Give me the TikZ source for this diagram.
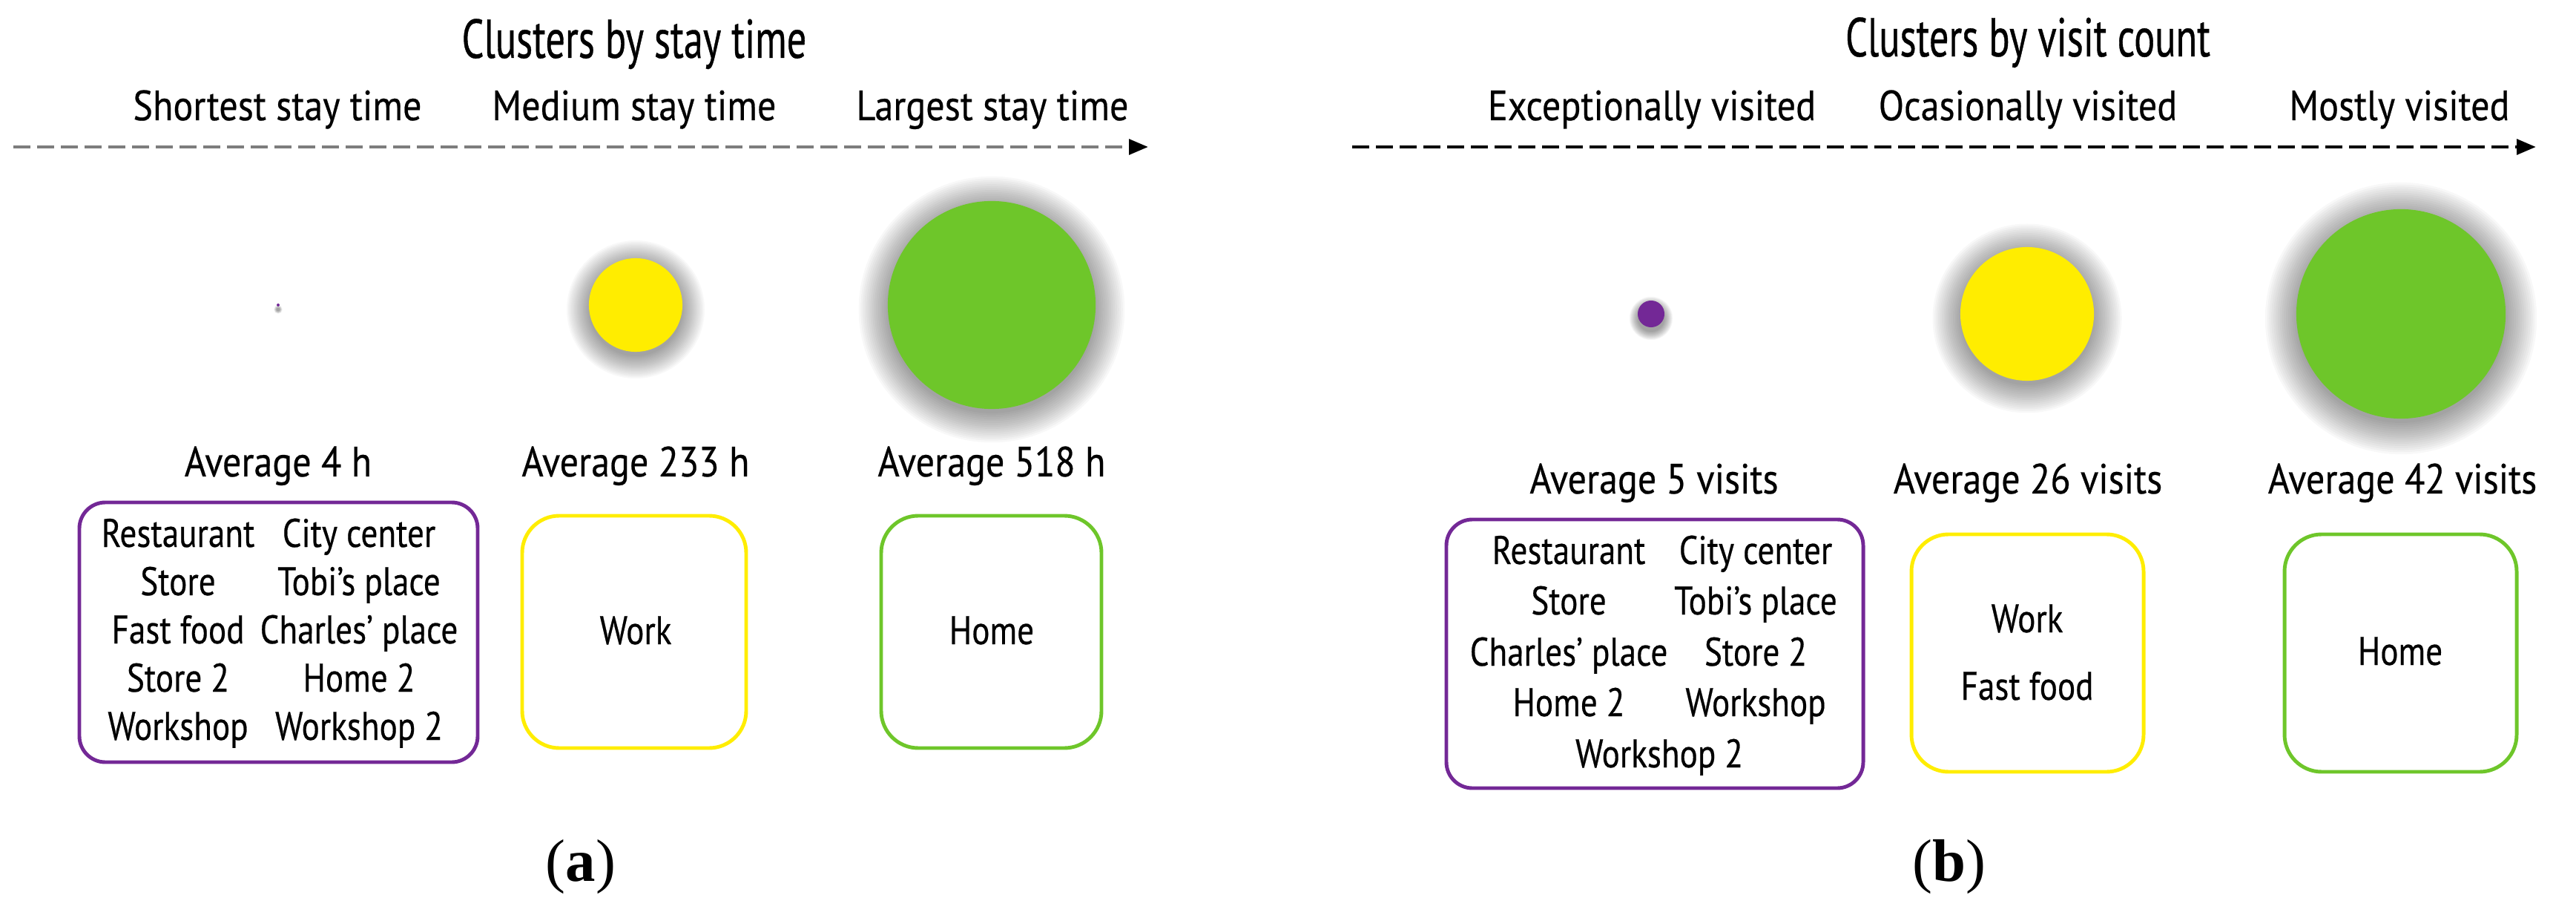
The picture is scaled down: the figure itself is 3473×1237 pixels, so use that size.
\documentclass[tikz,border=0pt]{standalone}
\usepackage{fontspec}
\setmainfont{PT Sans}[FakeStretch=0.88, FakeBold=0.4]
\newfontfamily\titlefont{PT Sans}[FakeStretch=0.71, FakeBold=0.5]
\newfontfamily\itemfont{PT Sans}[FakeStretch=0.84, FakeBold=0.4]
\newfontfamily\capfont{Liberation Serif}
\usetikzlibrary{arrows.meta,calc}
\definecolor{cpurple}{RGB}{115,40,150}
\definecolor{cyellow}{RGB}{255,237,0}
\definecolor{cgreen}{RGB}{110,198,42}
\definecolor{cdash}{RGB}{125,125,125}
\newcommand{\glowdisk}[6]{% name, x, y, radius(px), colour, glow extent(px)
  \foreach \k in {1,...,16} {
    \fill[black, opacity=0.026] (#2,#3+6) circle[radius=#4+#6-#6*\k/16];
  }
  \node[circle, fill=#5, inner sep=0, minimum size=#4*0.02cm] (#1) at (#2,#3) {};
}
\tikzset{
  ttl/.style={anchor=base, inner sep=0, font=\titlefont\fontsize{21}{24}\selectfont},
  sub/.style={anchor=base, inner sep=0, font=\fontsize{16.2}{19}\selectfont},
  avg/.style={anchor=base, inner sep=0, font=\fontsize{16.2}{19}\selectfont},
  itm/.style={anchor=base, inner sep=0, font=\itemfont\fontsize{15.3}{18}\selectfont},
  captxt/.style={anchor=base, inner sep=0, font=\capfont\fontsize{23}{26}\selectfont},
  axisline/.style={line width=1.4pt, dash pattern=on 6.5pt off 2.6pt,
    -{Triangle[length=7.4pt,width=5.8pt,color=black]}},
  pbox/.style={draw=cpurple, line width=1.4pt, rounded corners=0.35cm},
  ybox/.style={draw=cyellow, line width=1.4pt, rounded corners=0.5cm},
  gbox/.style={draw=cgreen, line width=1.4pt, rounded corners=0.5cm},
}
\begin{document}
\begin{tikzpicture}[x=0.01cm, y=-0.01cm]
\useasboundingbox (0,0) rectangle (3473,1237);
% ---------------- panel (a)
\node[ttl] (ta) at (855,78) {Clusters by stay time};
\node[sub] (sa1) at (374,162) {Shortest stay time};
\node[sub] (sa2) at (855,162) {Medium stay time};
\node[sub] (sa3) at (1338,162) {Largest stay time};
\coordinate (axa0) at (18,198);
\coordinate (axa1) at (1548,198);
\draw[axisline, draw=cdash] (axa0) -- (axa1);
\glowdisk{da1}{375}{411}{2}{cpurple}{4}
\glowdisk{da2}{857}{411}{63}{cyellow}{32}
\glowdisk{da3}{1337}{411}{140}{cgreen}{42}
\node[avg] (aa1) at (375,642) {Average 4 h};
\node[avg] (aa2) at (857,642) {Average 233 h};
\node[avg] (aa3) at (1337,642) {Average 518 h};
\draw[pbox] (107,677) rectangle (644,1027);
\draw[ybox] (704,695) rectangle (1006,1008);
\draw[gbox] (1188,695) rectangle (1485,1008);
\node[itm] (a11) at (240,737) {Restaurant};
\node[itm] (a12) at (484,737) {City center};
\node[itm] (a21) at (240,802) {Store};
\node[itm] (a22) at (484,802) {Tobi’s place};
\node[itm] (a31) at (240,867) {Fast food};
\node[itm] (a32) at (484,867) {Charles’ place};
\node[itm] (a41) at (240,932) {Store 2};
\node[itm] (a42) at (484,932) {Home 2};
\node[itm] (a51) at (240,997) {Workshop};
\node[itm] (a52) at (484,997) {Workshop 2};
\node[itm] (awork) at (857,868) {Work};
\node[itm] (ahome) at (1337,868) {Home};
\node[captxt] (capa) at (783,1187) {(\textbf{a})};
% ---------------- panel (b)
\node[ttl] (tb) at (2734,76) {Clusters by visit count};
\node[sub] (sb1) at (2227,162) {Exceptionally visited};
\node[sub] (sb2) at (2734,162) {Ocasionally visited};
\node[sub] (sb3) at (3235,162) {Mostly visited};
\coordinate (axb0) at (1823,198);
\coordinate (axb1) at (3419,198);
\draw[axisline, draw=black] (axb0) -- (axb1);
\glowdisk{db1}{2226}{423}{18}{cpurple}{12}
\glowdisk{db2}{2733}{423}{90}{cyellow}{40}
\glowdisk{db3}{3237}{423}{141}{cgreen}{45}
\node[avg] (ab1) at (2230,665) {Average 5 visits};
\node[avg] (ab2) at (2734,665) {Average 26 visits};
\node[avg] (ab3) at (3239,665) {Average 42 visits};
\draw[pbox] (1950,700) rectangle (2512,1062);
\draw[ybox] (2577,720) rectangle (2890,1040);
\draw[gbox] (3080,720) rectangle (3393,1040);
\node[itm] (b11) at (2115,760) {Restaurant};
\node[itm] (b12) at (2367,760) {City center};
\node[itm] (b21) at (2115,828) {Store};
\node[itm] (b22) at (2367,828) {Tobi’s place};
\node[itm] (b31) at (2115,897) {Charles’ place};
\node[itm] (b32) at (2367,897) {Store 2};
\node[itm] (b41) at (2115,965) {Home 2};
\node[itm] (b42) at (2367,965) {Workshop};
\node[itm] (b51) at (2237,1034) {Workshop 2};
\node[itm] (bwork) at (2733,852) {Work};
\node[itm] (bfast) at (2733,943) {Fast food};
\node[itm] (bhome) at (3236,896) {Home};
\node[captxt] (capb) at (2628,1187) {(\textbf{b})};
\end{tikzpicture}
\end{document}
